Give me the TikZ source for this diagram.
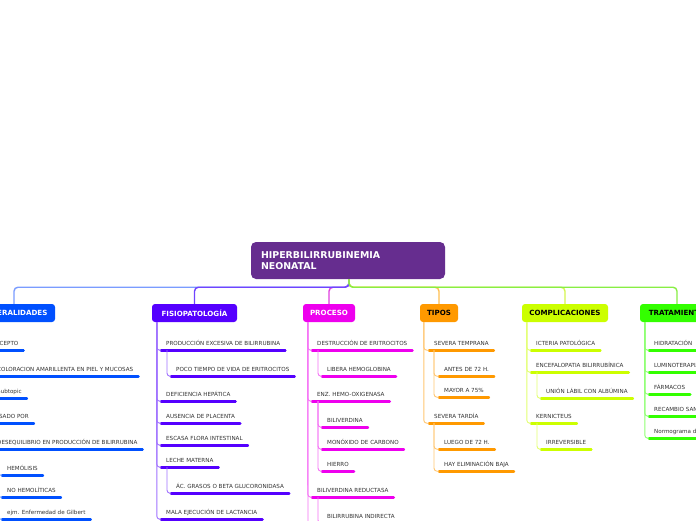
\documentclass[tikz,border=0pt]{standalone}
\usepackage{fontspec}
\setmainfont{DejaVu Sans}
\usetikzlibrary{calc}
\definecolor{maincol}{HTML}{662D8F}
\definecolor{gencol}{HTML}{0050FF}
\definecolor{fiscol}{HTML}{5500FF}
\definecolor{procol}{HTML}{EE00EE}
\definecolor{tipcol}{HTML}{FF9900}
\definecolor{comcol}{HTML}{CCFF00}
\definecolor{tracol}{HTML}{33FF00}
\definecolor{txtgray}{HTML}{333333}
\definecolor{tgen}{HTML}{7A9CFF}
\definecolor{tfis}{HTML}{7044FF}
\definecolor{tpro}{HTML}{E040E0}
\definecolor{ttip}{HTML}{FFC050}
\definecolor{tcom}{HTML}{D4F550}
\definecolor{ttra}{HTML}{88EE44}
\tikzset{
 subnode/.style={anchor=base west, inner xsep=5pt, inner ysep=0pt, text height=4pt, text depth=5pt, font=\fontsize{5.6}{6}\selectfont, text=txtgray},
 ul/.style={line width=2.6pt, line cap=round, draw=#1},
 conn/.style={line width=0.9pt, draw=#1!55!white, rounded corners=3pt},
 topconn/.style={line width=1.4pt, draw=#1, rounded corners=4pt},
 branchbox/.style={rounded corners=3pt, minimum height=18pt, inner sep=0pt, font=\fontsize{7.1}{8}\selectfont\bfseries},
}
\newcommand\subt[5]{\node[subnode] (#1) at ({#2-5},{#3+2}) {#5}; \draw[ul=#4] (#1.south west) -- (#1.south east);}
\newcommand\lnk[4]{\draw[conn=#1] ($(#2.south west)+(#4,0)$) |- (#3.south west);}
\begin{document}
\begin{tikzpicture}[x=1pt,y=-1pt]
\fill[white] (0,0) rectangle (696,520);
\path[use as bounding box] (0,0) rectangle (696,520);
\clip (0,0) rectangle (696,520);

% main topic
\node[fill=maincol, rounded corners=5pt, minimum width=194pt, minimum height=37pt, inner xsep=10pt, text width=174pt, align=left, text=white, font=\fontsize{9.4}{11}\selectfont\bfseries] (main) at (348,260.5) {HIPERBILIRRUBINEMIA\\NEONATAL};

% branch boxes
\node[branchbox, fill=gencol, text=white, minimum width=82pt] (gen) at (14,313) {GENERALIDADES};
\node[branchbox, fill=fiscol, text=white, minimum width=85pt] (fis) at (194.5,313) {FISIOPATOLOGÍA};
\node[branchbox, fill=procol, text=white, minimum width=52pt] (pro) at (329,313) {PROCESO};
\node[branchbox, fill=tipcol, text=black, minimum width=38pt] (tip) at (439,313) {TIPOS};
\node[branchbox, fill=comcol, text=black, minimum width=86pt] (com) at (565,313) {COMPLICACIONES};
\node[branchbox, fill=tracol, text=black, minimum width=74pt] (tra) at (677,313) {TRATAMIENTO};

% top connectors
\begin{scope}[on background layer/.style={}]
\draw[topconn=tpro] ($(main.south)+(1,0)$) -- ++(0,8) -| (pro.north);
\draw[topconn=ttip] ($(main.south)+(1,0)$) -- ++(0,8) -| (tip.north);
\draw[topconn=tgen] ($(main.south)+(1,0)$) -- ++(0,8) -| (gen.north);
\draw[topconn=tfis] ($(main.south)+(1,0)$) -- ++(0,8) -| (fis.north);
\draw[topconn=tcom] ($(main.south)+(1,0)$) -- ++(0,8) -| (com.north);
\draw[topconn=ttra] ($(main.south)+(1,0)$) -- ++(0,8) -| (tra.north);
\end{scope}

% GENERALIDADES
\subt{g1}{-13}{343}{gencol}{CONCEPTO}
\subt{g11}{-3}{369}{gencol}{COLORACION AMARILLENTA EN PIEL Y MUCOSAS}
\subt{g12}{-3}{391}{gencol}{Subtopic}
\subt{g2}{-13}{416}{gencol}{CAUSADO POR}
\subt{g21}{-3}{442}{gencol}{DESEQUILIBRIO EN PRODUCCIÓN DE BILIRRUBINA}
\subt{g211}{7}{468}{gencol}{HEMÓLISIS}
\subt{g212}{7}{490}{gencol}{NO HEMOLÍTICAS}
\subt{g213}{7}{512}{gencol}{ejm. Enfermedad de Gilbert}
\lnk{gencol}{gen}{g1}{5}
\lnk{gencol}{gen}{g2}{5}
\lnk{gencol}{g1}{g11}{6}
\lnk{gencol}{g1}{g12}{6}
\lnk{gencol}{g2}{g21}{6}
\lnk{gencol}{g21}{g211}{6}
\lnk{gencol}{g21}{g212}{6}
\lnk{gencol}{g21}{g213}{6}

% FISIOPATOLOGIA
\subt{f1}{166}{343}{fiscol}{PRODUCCIÓN EXCESIVA DE BILIRRUBINA}
\subt{f11}{176}{369}{fiscol}{POCO TIEMPO DE VIDA DE ERITROCITOS}
\subt{f2}{166}{394}{fiscol}{DEFICIENCIA HEPÁTICA}
\subt{f3}{166}{416}{fiscol}{AUSENCIA DE PLACENTA}
\subt{f4}{166}{438}{fiscol}{ESCASA FLORA INTESTINAL}
\subt{f5}{166}{460}{fiscol}{LECHE MATERNA}
\subt{f51}{176}{486}{fiscol}{ÁC. GRASOS O BETA GLUCORONIDASA}
\subt{f6}{166}{512}{fiscol}{MALA EJECUCIÓN DE LACTANCIA}
\lnk{fiscol}{fis}{f1}{5}
\lnk{fiscol}{fis}{f2}{5}
\lnk{fiscol}{fis}{f3}{5}
\lnk{fiscol}{fis}{f4}{5}
\lnk{fiscol}{fis}{f5}{5}
\lnk{fiscol}{fis}{f6}{5}
\lnk{fiscol}{f1}{f11}{6}
\lnk{fiscol}{f5}{f51}{6}

% PROCESO
\subt{p1}{317}{343}{procol}{DESTRUCCIÓN DE ERITROCITOS}
\subt{p11}{327}{369}{procol}{LIBERA HEMOGLOBINA}
\subt{p2}{317}{394}{procol}{ENZ. HEMO-OXIGENASA}
\subt{p21}{327}{420}{procol}{BILIVERDINA}
\subt{p22}{327}{442}{procol}{MONÓXIDO DE CARBONO}
\subt{p23}{327}{464}{procol}{HIERRO}
\subt{p3}{317}{490}{procol}{BILIVERDINA REDUCTASA}
\subt{p31}{327}{516}{procol}{BILIRRUBINA INDIRECTA}
\coordinate (pend) at (308,545);
\lnk{procol}{pro}{p1}{5}
\lnk{procol}{pro}{p2}{5}
\lnk{procol}{pro}{p3}{5}
\draw[conn=procol] ($(pro.south west)+(5,0)$) -- (pend);
\lnk{procol}{p1}{p11}{6}
\lnk{procol}{p2}{p21}{6}
\lnk{procol}{p2}{p22}{6}
\lnk{procol}{p2}{p23}{6}
\lnk{procol}{p3}{p31}{6}

% TIPOS
\subt{t1}{434}{343}{tipcol}{SEVERA TEMPRANA}
\subt{t11}{444}{369}{tipcol}{ANTES DE 72 H.}
\subt{t12}{444}{390}{tipcol}{MAYOR A 75\%}
\subt{t2}{434}{416}{tipcol}{SEVERA TARDÍA}
\subt{t21}{444}{442}{tipcol}{LUEGO DE 72 H.}
\subt{t22}{444}{464}{tipcol}{HAY ELIMINACIÓN BAJA}
\lnk{tipcol}{tip}{t1}{4}
\lnk{tipcol}{tip}{t2}{4}
\lnk{tipcol}{t1}{t11}{5}
\lnk{tipcol}{t1}{t12}{5}
\lnk{tipcol}{t2}{t21}{5}
\lnk{tipcol}{t2}{t22}{5}

% COMPLICACIONES
\subt{c1}{536}{343}{comcol}{ICTERIA PATOLÓGICA}
\subt{c2}{536}{365}{comcol}{ENCEFALOPATIA BILIRRUBÍNICA}
\subt{c21}{546}{391}{comcol}{UNIÓN LÁBIL CON ALBÚMINA}
\subt{c3}{536}{416}{comcol}{KERNICTEUS}
\subt{c31}{546}{442}{comcol}{IRREVERSIBLE}
\lnk{comcol}{com}{c1}{5}
\lnk{comcol}{com}{c2}{5}
\lnk{comcol}{com}{c3}{5}
\lnk{comcol}{c2}{c21}{6}
\lnk{comcol}{c3}{c31}{6}

% TRATAMIENTO
\subt{r1}{654}{343}{tracol}{HIDRATACIÓN}
\subt{r2}{654}{365}{tracol}{LUMINOTERAPIA}
\subt{r3}{654}{387}{tracol}{FÁRMACOS}
\subt{r4}{654}{409}{tracol}{RECAMBIO SANGUÍNEO}
\subt{r5}{654}{431}{tracol}{Normograma de Bhutani}
\lnk{tracol}{tra}{r1}{5}
\lnk{tracol}{tra}{r2}{5}
\lnk{tracol}{tra}{r3}{5}
\lnk{tracol}{tra}{r4}{5}
\lnk{tracol}{tra}{r5}{5}
\end{tikzpicture}
\end{document}
